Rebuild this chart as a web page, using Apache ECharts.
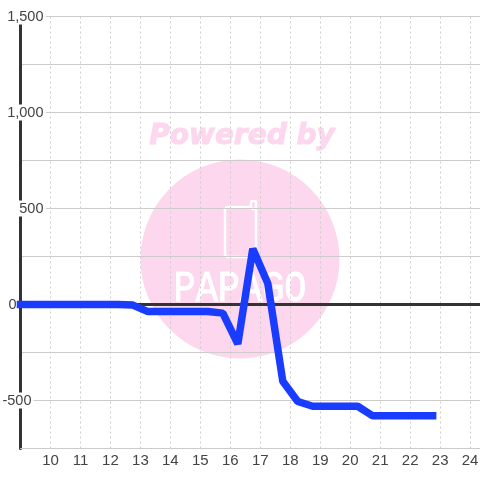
<!DOCTYPE html>
<html><head><meta charset="utf-8">
<style>html,body{margin:0;padding:0;background:#fff}#c{width:480px;height:480px}</style>
<script src="https://cdn.jsdelivr.net/npm/echarts@6/dist/echarts.min.js"></script>
</head><body><div id="c"></div>
<script>
const hours = [9,12.25,12.75,13.25,15.25,15.75,16.25,16.75,17.25,17.75,18.25,18.75,20.25,20.75,22.75];
const values = [0,0,-3,-37,-37,-45,-205,290,110,-400,-505,-530,-530,-580,-580];
const yMin=-750, yMax=1500, yStep=250;
const xMin=9, xMax=24.33;
const zeroX=[9,24.33], zeroY=[0,0];
const labelled=[-500,0,500,1000,1500];
const fmt=v=>labelled.includes(v)?(v===0?'0':(v<0?'-':'')+Math.abs(v).toLocaleString('en-US')):'';
const font='"Liberation Sans",Arial,sans-serif';
const chart=echarts.init(document.getElementById('c'),null,{renderer:'canvas'});
chart.setOption({
 animation:false,
 grid:{left:20.5,right:0,top:16.5,bottom:31.5,containLabel:false,outerBoundsMode:'none'},
 graphic:[
  {type:'circle',z:-10,shape:{cx:240,cy:259,r:99.5},style:{fill:'#fcd7ee'}},
  {type:'text',z:-10,x:242,y:137,style:{text:'Powered by',fill:'#fcd7ee',stroke:'#fcd7ee',lineWidth:1,font:'italic bold 28px "DejaVu Sans"',textAlign:'center',textVerticalAlign:'middle'}},
  {type:'rect',z:-9,shape:{x:225,y:207,width:31,height:50,r:3},style:{fill:'none',stroke:'#fff',lineWidth:2.5}},
  {type:'rect',z:-9,shape:{x:251,y:201,width:5,height:8,r:2},style:{fill:'#fcd7ee',stroke:'#fff',lineWidth:2.5}},
  {type:'text',z:-9,x:240,y:289,scaleX:0.84,style:{text:'PAPAGO',fill:'#fff',stroke:'#fff',lineWidth:1,font:'44px "Liberation Mono"',textAlign:'center',textVerticalAlign:'middle'}}
 ],
 xAxis:{type:'value',min:xMin,max:xMax,interval:1,position:'bottom',
   axisLine:{onZero:false,show:true,lineStyle:{color:'#ccc',width:1}},axisTick:{show:false},
   axisLabel:{color:'#444',fontFamily:font,fontSize:15,margin:5,showMinLabel:false,showMaxLabel:false,
     formatter:v=>(v>=10&&v<=24)?String(v):''},
   splitLine:{show:true,lineStyle:{color:'#ccc',type:[2,3],width:1}}},
 yAxis:{type:'value',min:yMin,max:yMax,interval:yStep,
  axisLine:{show:true,onZero:false,lineStyle:{color:'#333',width:3}},axisTick:{show:false},
  splitLine:{show:true,lineStyle:{color:'#ccc',width:1}},
  axisLabel:{color:'#444',fontFamily:font,fontSize:14.5,margin:-25,align:'right',showMinLabel:false,
    formatter:v=>{const t=fmt(v);if(!t)return '';
      if(v===0)return '{b|'+t+'}{z|}';
      if(v<0)return '{b|'+t+'}{n|}';
      return '{b|'+t+'}';},
    rich:{b:{backgroundColor:'#fff',padding:[1,2,0,2],lineHeight:15,fontSize:14.5,color:'#444',fontFamily:font},
          z:{width:27},n:{width:12}}}},
 series:[
  {type:'line',data:zeroX.map((x,i)=>[x,zeroY[i]]),symbol:'none',z:2,silent:true,lineStyle:{color:'#333',width:3}},
  {type:'line',data:hours.map((h,i)=>[h,values[i]]),showSymbol:false,symbol:'none',clip:false,z:3,
   lineStyle:{color:'#1a3cff',width:7.5,cap:'square',join:'bevel'}}]
});
</script></body></html>
